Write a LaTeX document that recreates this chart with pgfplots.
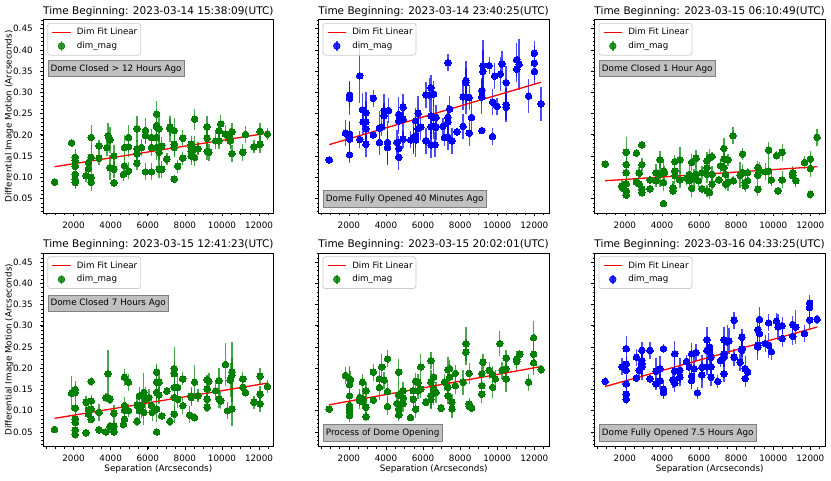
\documentclass[border=0pt]{standalone}
\usepackage{fontspec}
\setmainfont{DejaVu Sans}
\usepackage{pgfplots}
\pgfplotsset{compat=1.18}
\usepackage{pgfplotstable}

\definecolor{mgreen}{RGB}{0,128,0}
\definecolor{mblue}{RGB}{0,0,255}
\definecolor{mred}{RGB}{255,0,0}
\definecolor{annfill}{RGB}{192,192,192}
\definecolor{annedge}{RGB}{128,128,128}
\definecolor{legedge}{RGB}{204,204,204}

% Panel 1: 2023-03-14 15:38:09
\pgfplotstableread{
x y e
976 0.089 0.008
1890 0.181 0.01
2090 0.147 0.02
2090 0.139 0.015
2090 0.126 0.02
2090 0.107 0.02
2090 0.094 0.02
2090 0.088 0.015
2676 0.104 0.015
2804 0.135 0.02
2804 0.120 0.02
2950 0.194 0.03
2950 0.147 0.03
2950 0.100 0.02
2950 0.088 0.02
3371 0.174 0.015
3371 0.145 0.015
3791 0.170 0.02
3865 0.198 0.03
3956 0.123 0.03
3956 0.188 0.03
4175 0.119 0.02
4175 0.087 0.01
4175 0.150 0.025
4687 0.107 0.015
4742 0.127 0.02
4742 0.170 0.03
4961 0.194 0.03
4961 0.172 0.025
4961 0.115 0.02
5418 0.214 0.03
5418 0.167 0.02
5418 0.155 0.02
5418 0.133 0.015
5656 0.170 0.02
5875 0.210 0.03
5875 0.198 0.02
5875 0.113 0.02
6204 0.194 0.02
6204 0.170 0.02
6204 0.113 0.02
6479 0.249 0.03
6479 0.222 0.025
6479 0.218 0.02
6479 0.194 0.03
6479 0.170 0.03
6607 0.214 0.03
6607 0.119 0.02
6607 0.170 0.03
6607 0.159 0.02
6753 0.119 0.02
6753 0.174 0.02
7027 0.143 0.015
7191 0.214 0.03
7191 0.218 0.02
7429 0.210 0.03
7429 0.178 0.03
7429 0.170 0.02
7429 0.096 0.01
7612 0.126 0.015
7886 0.192 0.02
7886 0.145 0.015
8343 0.178 0.02
8343 0.170 0.02
8343 0.161 0.025
8343 0.150 0.02
8526 0.237 0.025
8526 0.167 0.03
8526 0.147 0.02
8709 0.167 0.015
9202 0.219 0.025
9202 0.192 0.025
9202 0.161 0.02
9294 0.159 0.02
9659 0.186 0.02
9842 0.210 0.02
9842 0.186 0.02
9933 0.226 0.02
10189 0.202 0.02
10445 0.192 0.025
10445 0.186 0.02
10537 0.207 0.02
10537 0.156 0.02
11122 0.159 0.02
11268 0.201 0.02
11725 0.172 0.015
12054 0.208 0.02
12054 0.178 0.02
12456 0.202 0.015
}\dataA

% Panel 2: 2023-03-14 23:40:25
\pgfplotstableread{
x y e
940 0.141 0.005
1817 0.204 0.03
2037 0.294 0.03
2037 0.286 0.04
2037 0.202 0.03
2037 0.194 0.03
2037 0.190 0.04
2037 0.153 0.02
2585 0.339 0.065
2585 0.189 0.02
2731 0.259 0.04
2768 0.230 0.03
2914 0.252 0.05
2914 0.230 0.05
2914 0.214 0.04
2914 0.178 0.03
3316 0.286 0.02
3316 0.200 0.01
3645 0.216 0.04
3645 0.182 0.03
3773 0.218 0.02
3901 0.245 0.03
3901 0.257 0.04
4084 0.182 0.05
4084 0.170 0.04
4139 0.257 0.03
4596 0.182 0.03
4687 0.248 0.04
4687 0.233 0.03
4687 0.168 0.03
4687 0.147 0.03
4925 0.265 0.03
4925 0.237 0.04
4925 0.190 0.02
5327 0.188 0.02
5473 0.194 0.04
5473 0.189 0.03
5601 0.198 0.03
5601 0.188 0.04
5601 0.233 0.03
5729 0.251 0.04
5729 0.215 0.03
5875 0.218 0.03
6150 0.294 0.03
6150 0.186 0.03
6332 0.294 0.04
6424 0.311 0.03
6424 0.245 0.04
6424 0.219 0.03
6424 0.176 0.03
6570 0.296 0.03
6570 0.241 0.04
6570 0.220 0.03
6643 0.177 0.03
6698 0.218 0.03
6698 0.241 0.03
7064 0.220 0.02
7155 0.194 0.02
7338 0.370 0.02
7338 0.241 0.03
7338 0.230 0.04
7338 0.194 0.03
7429 0.261 0.03
7557 0.186 0.03
7831 0.207 0.01
8160 0.289 0.03
8160 0.220 0.03
8307 0.328 0.03
8307 0.289 0.04
8307 0.323 0.05
8489 0.204 0.03
8489 0.288 0.03
8617 0.241 0.04
9166 0.304 0.03
9166 0.289 0.04
9166 0.210 0.005
9221 0.363 0.06
9221 0.349 0.05
9568 0.363 0.02
9751 0.277 0.03
9751 0.196 0.02
9860 0.338 0.03
9988 0.267 0.02
10171 0.343 0.04
10263 0.367 0.03
10482 0.323 0.04
10482 0.271 0.04
10482 0.265 0.03
11049 0.377 0.04
11049 0.355 0.03
11177 0.366 0.06
11689 0.291 0.04
12000 0.392 0.03
12000 0.369 0.04
12000 0.349 0.03
12365 0.273 0.04
}\dataB

% Panel 3: 2023-03-15 06:10:49
\pgfplotstableread{
x y e
940 0.131 0.01
1854 0.080 0.015
1854 0.076 0.01
2073 0.159 0.035
2073 0.130 0.02
2073 0.111 0.02
2073 0.085 0.02
2073 0.068 0.015
2073 0.058 0.01
2622 0.157 0.01
2622 0.089 0.01
2768 0.110 0.015
2768 0.084 0.01
2914 0.130 0.015
2914 0.176 0.01
2914 0.072 0.015
2914 0.064 0.01
3353 0.094 0.01
3353 0.073 0.01
3682 0.111 0.02
3682 0.092 0.015
3901 0.141 0.02
3901 0.107 0.03
4084 0.038 0.008
4084 0.088 0.02
4084 0.115 0.02
4139 0.111 0.015
4596 0.068 0.01
4596 0.076 0.015
4687 0.115 0.02
4687 0.104 0.02
4687 0.137 0.015
4961 0.141 0.03
4961 0.094 0.02
5327 0.098 0.015
5473 0.107 0.02
5473 0.092 0.02
5601 0.135 0.02
5601 0.074 0.02
5729 0.099 0.02
5839 0.145 0.02
5839 0.107 0.02
5967 0.092 0.015
6150 0.111 0.015
6150 0.073 0.01
6424 0.139 0.02
6424 0.123 0.02
6424 0.107 0.02
6424 0.068 0.015
6570 0.147 0.02
6570 0.064 0.015
6698 0.149 0.01
6698 0.084 0.015
6698 0.107 0.02
7064 0.094 0.01
7155 0.127 0.015
7338 0.168 0.025
7338 0.123 0.02
7338 0.143 0.02
7429 0.107 0.02
7429 0.084 0.015
7557 0.141 0.015
7557 0.088 0.02
7831 0.198 0.02
7850 0.092 0.01
8215 0.105 0.03
8343 0.155 0.015
8343 0.111 0.02
8489 0.080 0.015
8489 0.088 0.02
8617 0.092 0.015
8617 0.111 0.01
9166 0.123 0.015
9166 0.105 0.02
9166 0.072 0.015
9257 0.115 0.02
9568 0.113 0.02
9751 0.164 0.02
9751 0.115 0.03
9897 0.094 0.015
10171 0.151 0.01
10263 0.068 0.01
10482 0.159 0.02
10482 0.094 0.02
11049 0.111 0.015
11049 0.104 0.015
11214 0.092 0.015
11689 0.135 0.015
12000 0.143 0.02
12000 0.121 0.02
12000 0.060 0.01
12365 0.194 0.02
}\dataC

% Panel 4: 2023-03-15 12:41:23
\pgfplotstableread{
x y e
976 0.056 0.006
1890 0.141 0.04
2091 0.150 0.02
2091 0.143 0.02
2091 0.106 0.02
2091 0.080 0.015
2091 0.072 0.015
2091 0.054 0.01
2091 0.044 0.01
2676 0.120 0.015
2676 0.048 0.005
2804 0.102 0.02
2804 0.092 0.02
2951 0.169 0.01
2951 0.123 0.015
2951 0.104 0.02
2951 0.080 0.01
3371 0.096 0.02
3371 0.055 0.005
3737 0.131 0.01
3737 0.050 0.005
3865 0.187 0.055
3865 0.130 0.01
3956 0.127 0.01
3956 0.063 0.01
4175 0.094 0.02
4175 0.050 0.005
4175 0.064 0.01
4687 0.068 0.01
4742 0.179 0.02
4742 0.112 0.02
4742 0.101 0.02
4742 0.080 0.02
4961 0.167 0.02
4961 0.100 0.015
5418 0.113 0.02
5418 0.075 0.01
5546 0.135 0.02
5546 0.100 0.02
5656 0.112 0.03
5784 0.143 0.045
5784 0.096 0.03
5875 0.127 0.03
6058 0.131 0.02
6204 0.112 0.02
6241 0.096 0.02
6479 0.191 0.02
6479 0.167 0.04
6479 0.143 0.02
6479 0.104 0.03
6479 0.050 0.01
6607 0.137 0.02
6607 0.167 0.02
6753 0.088 0.01
7027 0.146 0.01
7191 0.075 0.01
7429 0.199 0.05
7429 0.187 0.03
7429 0.155 0.02
7429 0.131 0.03
7429 0.092 0.02
7612 0.155 0.03
7612 0.127 0.02
7886 0.175 0.015
7886 0.112 0.02
8252 0.090 0.02
8343 0.135 0.02
8343 0.131 0.02
8526 0.167 0.04
8526 0.084 0.01
8709 0.135 0.015
9202 0.173 0.01
9202 0.151 0.02
9202 0.127 0.02
9202 0.108 0.01
9294 0.169 0.02
9659 0.147 0.02
9842 0.171 0.03
9842 0.127 0.02
9933 0.123 0.02
10189 0.209 0.05
10299 0.100 0.02
10445 0.172 0.04
10537 0.191 0.07
10537 0.183 0.04
10537 0.104 0.04
11122 0.175 0.015
11122 0.155 0.015
11268 0.143 0.01
11725 0.120 0.015
12054 0.181 0.02
12054 0.139 0.02
12054 0.116 0.02
12456 0.157 0.015
}\dataD

% Panel 5: 2023-03-15 20:02:01
\pgfplotstableread{
x y e
940 0.104 0.01
1817 0.183 0.02
2037 0.175 0.03
2037 0.161 0.04
2037 0.135 0.02
2037 0.112 0.015
2037 0.104 0.02
2037 0.098 0.02
2037 0.088 0.015
2091 0.173 0.02
2585 0.131 0.02
2585 0.123 0.02
2731 0.167 0.02
2731 0.122 0.015
2768 0.127 0.02
2914 0.147 0.02
2914 0.108 0.02
2914 0.086 0.01
3316 0.191 0.02
3316 0.125 0.01
3645 0.175 0.02
3645 0.155 0.03
3773 0.203 0.03
3901 0.172 0.02
4084 0.222 0.02
4084 0.145 0.025
4084 0.110 0.02
4596 0.117 0.02
4687 0.191 0.03
4687 0.137 0.03
4687 0.104 0.02
4687 0.090 0.015
4925 0.147 0.02
4925 0.130 0.02
4925 0.117 0.02
5327 0.084 0.005
5473 0.147 0.03
5473 0.127 0.02
5601 0.169 0.02
5601 0.104 0.02
5729 0.147 0.02
5729 0.167 0.02
5875 0.203 0.03
5875 0.151 0.02
6150 0.120 0.01
6424 0.218 0.02
6424 0.167 0.03
6424 0.135 0.03
6424 0.127 0.02
6570 0.179 0.03
6570 0.151 0.02
6570 0.143 0.03
6698 0.143 0.025
6972 0.106 0.01
7155 0.167 0.02
7338 0.197 0.03
7338 0.155 0.03
7338 0.135 0.02
7429 0.199 0.02
7429 0.179 0.03
7557 0.120 0.02
7557 0.104 0.02
7740 0.188 0.02
7740 0.159 0.02
8160 0.167 0.03
8307 0.238 0.03
8307 0.258 0.04
8489 0.188 0.025
8489 0.116 0.015
8489 0.110 0.01
8617 0.106 0.01
9166 0.187 0.03
9166 0.159 0.02
9166 0.139 0.02
9221 0.214 0.02
9568 0.195 0.02
9751 0.155 0.025
9751 0.185 0.02
9897 0.175 0.02
10135 0.258 0.03
10263 0.195 0.02
10482 0.224 0.02
10482 0.175 0.03
10482 0.199 0.03
11049 0.216 0.02
11049 0.221 0.02
11214 0.233 0.01
11689 0.167 0.02
11963 0.272 0.04
11963 0.233 0.04
11963 0.213 0.03
12365 0.197 0.01
}\dataE

% Panel 6: 2023-03-16 04:33:25
\pgfplotstableread{
x y e
940 0.169 0.01
1854 0.203 0.02
2073 0.246 0.03
2073 0.210 0.02
2073 0.195 0.03
2073 0.163 0.02
2073 0.139 0.015
2073 0.127 0.01
2622 0.226 0.02
2622 0.177 0.01
2768 0.195 0.02
2914 0.242 0.02
2914 0.218 0.03
2914 0.210 0.03
2914 0.203 0.03
3353 0.242 0.02
3353 0.175 0.01
3682 0.193 0.03
3682 0.163 0.015
3901 0.171 0.02
3901 0.199 0.03
4084 0.246 0.01
4084 0.151 0.02
4084 0.143 0.015
4596 0.173 0.02
4687 0.234 0.03
4687 0.193 0.03
4687 0.165 0.02
4961 0.195 0.03
4961 0.179 0.02
5327 0.216 0.015
5473 0.203 0.03
5601 0.234 0.025
5601 0.181 0.03
5601 0.171 0.02
5729 0.199 0.03
5839 0.237 0.02
5912 0.142 0.015
6150 0.202 0.03
6150 0.184 0.03
6424 0.267 0.03
6424 0.242 0.03
6424 0.203 0.02
6570 0.239 0.03
6570 0.250 0.02
6643 0.226 0.03
6643 0.204 0.03
6643 0.179 0.02
7009 0.169 0.015
7155 0.218 0.015
7338 0.267 0.03
7338 0.234 0.03
7338 0.226 0.02
7338 0.187 0.02
7521 0.262 0.04
7612 0.264 0.03
7886 0.313 0.02
7886 0.226 0.02
8215 0.214 0.02
8307 0.273 0.02
8307 0.246 0.02
8307 0.242 0.03
8489 0.199 0.03
8489 0.176 0.02
8617 0.191 0.015
9166 0.291 0.02
9166 0.254 0.02
9166 0.250 0.03
9257 0.315 0.03
9257 0.281 0.03
9568 0.258 0.02
9751 0.307 0.02
9751 0.254 0.03
9897 0.239 0.02
10171 0.311 0.02
10263 0.297 0.03
10482 0.300 0.02
10482 0.270 0.02
11049 0.303 0.02
11049 0.275 0.02
11214 0.297 0.04
11689 0.282 0.02
11963 0.353 0.02
11963 0.343 0.02
11963 0.313 0.02
12365 0.315 0.01
}\dataF

\tikzset{
  ann/.style={fill=annfill, draw=annedge, line width=0.7pt, inner xsep=2.6pt, inner ysep=3.4pt,
    text height=0.76em, text depth=0.24em, font=\fontsize{8.8}{10.5}\selectfont, text=black},
}

\pgfplotsset{
  panel/.style={
    scale only axis, width=230.7pt, height=193.7pt,
    anchor=south west,
    xmin=350, xmax=12790, ymin=0.0153, ymax=0.4713,
    xtick={2000,4000,6000,8000,10000,12000},
    ytick={0.05,0.1,0.15,0.2,0.25,0.3,0.35,0.4,0.45},
    minor xtick={500,1000,...,12500},
    minor ytick={0.02,0.03,...,0.475},
    tick pos=left, tick align=outside,
    major tick length=3.1pt, minor tick length=1.8pt,
    major tick style={black, line width=0.7pt},
    minor tick style={black, line width=0.5pt},
    axis line style={line width=0.7pt},
    scaled ticks=false,
    /pgf/number format/assume math mode=true,
    tick label style={font=\fontsize{8.8}{10}\selectfont},
    x tick label style={/pgf/number format/1000 sep={}, inner sep=0pt, anchor=north, yshift=-5pt},
    y tick label style={/pgf/number format/fixed, /pgf/number format/fixed zerofill, /pgf/number format/precision=2, inner sep=0pt, anchor=east, xshift=-7pt},
    every axis title/.style={font=\fontsize{10.5}{12.6}\selectfont, at={(0.5,1)}, anchor=base, yshift=5.6pt, inner sep=0pt},
    label style={font=\fontsize{8.8}{10.5}\selectfont},
    ylabel style={at={(axis description cs:-0.147,0.5)}, anchor=center},
    xlabel style={at={(axis description cs:0.5,-0.115)}, anchor=center},
    legend cell align=left,
    legend style={at={(0,1)}, anchor=north west, xshift=4.3pt, yshift=-3.3pt,
      draw=legedge, line width=0.7pt, rounded corners=2.5pt, fill=white, fill opacity=0.8,
      text opacity=1, draw opacity=1, font=\fontsize{8.7}{10.4}\selectfont,
      inner xsep=3pt, inner ysep=3.1pt, row sep=1.7pt,
      nodes={inner xsep=0.3pt, inner ysep=1pt, font=\fontsize{8.7}{10.4}\selectfont, text height=0.75em, text depth=0.25em},
      /tikz/every odd column/.append style={column sep=5pt}},
  },
  noylab/.style={yticklabels={}},
  scat/.style={only marks, mark=*, mark size=3.3pt, color=#1, mark options={fill=#1, draw=#1, line width=0pt},
    error bars/.cd, y dir=both, y explicit, error mark=none,
    error bar style={line width=1.4pt, #1, opacity=0.7}, /pgfplots/.cd},
  legscat/.style={legend image code/.code={\path (0pt,0pt) (20.3pt,0pt);
      \draw[line width=1.4pt, #1, opacity=0.7] (10.5pt,-4.6pt) -- (10.5pt,4.6pt);
      \fill[#1] (10.5pt,0pt) circle (3.3pt);}},
  fit/.style={mred, line width=1.3pt},
  legfit/.style={legend image code/.code={\path (0pt,0pt) (20.3pt,0pt);
      \draw[mred, line width=1.3pt] (1.4pt,0pt) -- (19.7pt,0pt);}},
}

\begin{document}
\begin{tikzpicture}
\useasboundingbox (0,0) rectangle (831pt,480pt);

% ---- top row ----
\begin{axis}[panel, at={(43pt,266.7pt)},
  title={Time Beginning: 2023-03-14 15:38:09(UTC)},
  ylabel={Differential Image Motion (Arcseconds)}]
\addplot[forget plot, scat=mgreen] table[x=x, y=y, y error=e] {\dataA};
\addplot[forget plot, fit] coordinates {(976,0.125) (12456,0.204)};
\addlegendimage{legfit}
\addlegendentry{Dim Fit Linear}
\addlegendimage{legscat=mgreen}
\addlegendentry{dim\_mag}
\node[ann, anchor=north west] at (rel axis cs:0.02,0.793) {Dome Closed > 12 Hours Ago};
\end{axis}

\begin{axis}[panel, noylab, at={(318.3pt,266.7pt)},
  title={Time Beginning: 2023-03-14 23:40:25(UTC)}]
\addplot[forget plot, scat=mblue] table[x=x, y=y, y error=e] {\dataB};
\addplot[forget plot, fit] coordinates {(940,0.177) (12365,0.324)};
\addlegendimage{legfit}
\addlegendentry{Dim Fit Linear}
\addlegendimage{legscat=mblue}
\addlegendentry{dim\_mag}
\node[ann, anchor=south west] at (rel axis cs:0.02,0.029) {Dome Fully Opened 40 Minutes Ago};
\end{axis}

\begin{axis}[panel, noylab, at={(594.3pt,266.7pt)},
  title={Time Beginning: 2023-03-15 06:10:49(UTC)}]
\addplot[forget plot, scat=mgreen] table[x=x, y=y, y error=e] {\dataC};
\addplot[forget plot, fit] coordinates {(940,0.092) (12365,0.125)};
\addlegendimage{legfit}
\addlegendentry{Dim Fit Linear}
\addlegendimage{legscat=mgreen}
\addlegendentry{dim\_mag}
\node[ann, anchor=north west] at (rel axis cs:0.02,0.793) {Dome Closed 1 Hour Ago};
\end{axis}

% ---- bottom row ----
\begin{axis}[panel, at={(43pt,33.3pt)},
  title={Time Beginning: 2023-03-15 12:41:23(UTC)},
  ylabel={Differential Image Motion (Arcseconds)},
  xlabel={Separation (Arcseconds)}]
\addplot[forget plot, scat=mgreen] table[x=x, y=y, y error=e] {\dataD};
\addplot[forget plot, fit] coordinates {(976,0.082) (12456,0.165)};
\addlegendimage{legfit}
\addlegendentry{Dim Fit Linear}
\addlegendimage{legscat=mgreen}
\addlegendentry{dim\_mag}
\node[ann, anchor=north west] at (rel axis cs:0.02,0.785) {Dome Closed 7 Hours Ago};
\end{axis}

\begin{axis}[panel, noylab, at={(318.3pt,33.3pt)},
  title={Time Beginning: 2023-03-15 20:02:01(UTC)},
  xlabel={Separation (Arcseconds)}]
\addplot[forget plot, scat=mgreen] table[x=x, y=y, y error=e] {\dataE};
\addplot[forget plot, fit] coordinates {(940,0.114) (12365,0.204)};
\addlegendimage{legfit}
\addlegendentry{Dim Fit Linear}
\addlegendimage{legscat=mgreen}
\addlegendentry{dim\_mag}
\node[ann, anchor=south west] at (rel axis cs:0.02,0.027) {Process of Dome Opening};
\end{axis}

\begin{axis}[panel, noylab, at={(594.3pt,33.3pt)},
  title={Time Beginning: 2023-03-16 04:33:25(UTC)},
  xlabel={Separation (Arcseconds)}]
\addplot[forget plot, scat=mblue] table[x=x, y=y, y error=e] {\dataF};
\addplot[forget plot, fit] coordinates {(940,0.157) (12365,0.297)};
\addlegendimage{legfit}
\addlegendentry{Dim Fit Linear}
\addlegendimage{legscat=mblue}
\addlegendentry{dim\_mag}
\node[ann, anchor=south west] at (rel axis cs:0.02,0.027) {Dome Fully Opened 7.5 Hours Ago};
\end{axis}
\end{tikzpicture}
\end{document}
